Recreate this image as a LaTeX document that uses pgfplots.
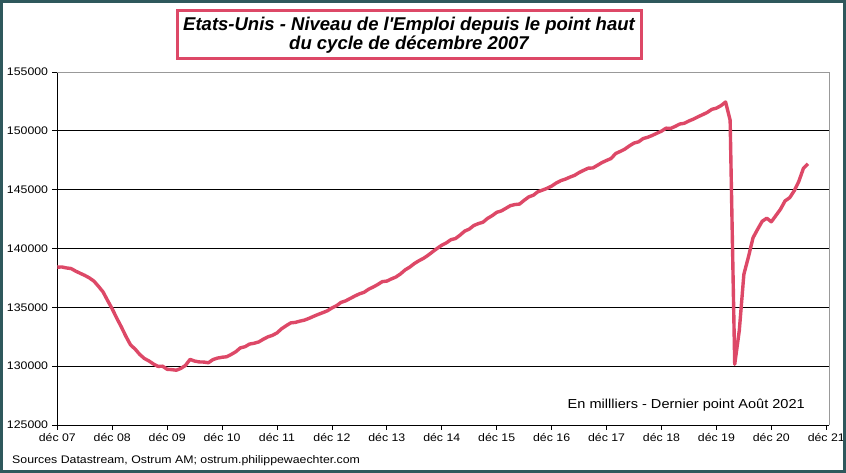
\documentclass[border=0pt]{standalone}
\usepackage{fontspec}
\setmainfont{Liberation Sans}[FakeStretch=1.12]
\newfontfamily\titlefont{Liberation Sans}
\usepackage{graphicx}
\usepackage{pgfplots}
\pgfplotsset{compat=1.18}
\usepackage{pgfplotstable}
\definecolor{linecol}{RGB}{221,72,103}
\definecolor{framecol}{RGB}{47,88,92}

\pgfplotstableread{
m v
0 138413
1 138430
2 138346
3 138298
4 138078
5 137893
6 137715
7 137502
8 137228
9 136785
10 136305
11 135573
12 134867
13 134070
14 133327
15 132526
16 131808
17 131451
18 131002
19 130658
20 130445
21 130185
22 129983
23 129997
24 129734
25 129705
26 129655
27 129811
28 130062
29 130576
30 130433
31 130360
32 130348
33 130289
34 130554
35 130685
36 130757
37 130799
38 130999
39 131227
40 131555
41 131650
42 131878
43 131948
44 132056
45 132286
46 132487
47 132620
48 132825
49 133178
50 133439
51 133677
52 133720
53 133826
54 133915
55 134063
56 134236
57 134399
58 134546
59 134704
60 134947
61 135136
62 135423
63 135551
64 135754
65 135959
66 136144
67 136275
68 136535
69 136722
70 136937
71 137182
72 137231
73 137417
74 137580
75 137848
76 138182
77 138417
78 138720
79 138957
80 139165
81 139424
82 139722
83 140011
84 140280
85 140478
86 140750
87 140846
88 141141
89 141475
90 141648
91 141953
92 142116
93 142233
94 142559
95 142787
96 143073
97 143190
98 143414
99 143643
100 143735
101 143778
102 144096
103 144383
104 144528
105 144825
106 144962
107 145112
108 145303
109 145563
110 145762
111 145892
112 146067
113 146214
114 146451
115 146645
116 146825
117 146843
118 147071
119 147303
120 147482
121 147651
122 148075
123 148251
124 148448
125 148725
126 148961
127 149065
128 149344
129 149452
130 149613
131 149795
132 149971
133 150226
134 150203
135 150376
136 150579
137 150642
138 150839
139 150998
140 151198
141 151376
142 151563
143 151824
144 151927
145 152141
146 152451
147 150894
148 130161
149 133028
150 137809
151 139285
152 140914
153 141630
154 142311
155 142575
156 142269
157 142802
158 143338
159 144045
160 144314
161 144900
162 145700
163 146800
164 147200
}\datatable

\begin{document}
\begin{tikzpicture}[x=1pt,y=1pt]
\useasboundingbox (0,0) rectangle (846,473);
\fill[white] (0,0) rectangle (846,473);
\begin{axis}[
  at={(57.3pt,48pt)}, anchor=south west,
  scale only axis, width=771.7pt, height=353pt,
  xmin=0, xmax=168.6, ymin=125000, ymax=155000,
  axis x line*=bottom, axis y line*=left,
  xtick={0,12,...,168},
  xticklabels={déc 07,déc 08,déc 09,déc 10,déc 11,déc 12,déc 13,déc 14,déc 15,déc 16,déc 17,déc 18,déc 19,déc 20,déc 21},
  ytick={125000,130000,...,155000},
  scaled y ticks=false,
  ymajorgrids, grid style={black, line width=0.8pt},
  tick align=outside, major tick length=5pt,
  tick style={black, line width=0.8pt},
  axis line style={black, line width=0.8pt},
  /pgf/number format/fixed,
  /pgf/number format/1000 sep={},
  /pgf/number format/assume math mode=true,
  ticklabel style={font=\fontsize{11}{13}\selectfont},
  yticklabel style={inner sep=1pt, xshift=-3pt},
  clip=false,
]
\addplot[linecol, line width=3.4pt, line join=round] table[x=m,y=v]{\datatable};
\draw[gray!80, line width=0.8pt] (rel axis cs:0,1) -- (rel axis cs:1,1) -- (rel axis cs:1,0);
\end{axis}
\node[draw=linecol, line width=3pt, fill=white, minimum width=464pt, minimum height=48pt, inner sep=0pt, align=center, font=\titlefont\bfseries\itshape\fontsize{18.5}{19.5}\selectfont] at (409,438) {Etats-Unis - Niveau de l'Emploi depuis le point haut\\du cycle de décembre 2007};
\node[anchor=base east, inner sep=0pt, font=\fontsize{13}{15}\selectfont] at (805,64) {En millliers - Dernier point Août 2021};
\node[anchor=base west, inner sep=0pt, font=\fontsize{11}{13}\selectfont] at (12,9) {Sources Datastream, Ostrum AM; ostrum.philippewaechter.com};
\draw[framecol, line width=3pt] (1.5,1.5) rectangle (844.5,471.5);
\end{tikzpicture}
\end{document}
